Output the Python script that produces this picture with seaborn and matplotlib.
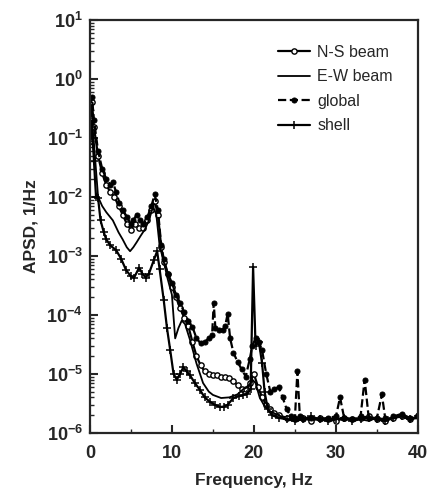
import numpy as np
import pandas as pd
import matplotlib
matplotlib.use('Agg')
import matplotlib.pyplot as plt
import seaborn as sns
from matplotlib.ticker import LogLocator, MultipleLocator

# ---- data (APSD, 1/Hz vs frequency, Hz) ----
ns_freq = [0, 0.25, 0.5, 1.0, 1.5, 2.0, 2.5, 3.0, 3.5, 4.0, 4.5, 5.0, 5.5, 6.0,
           6.5, 7.0, 7.5, 7.9, 8.3, 8.7, 9.0, 9.5, 10.0, 10.5, 11.0, 11.5, 12.0,
           12.5, 13.0, 13.5, 14.0, 14.5, 15.0, 15.5, 16.0, 16.5, 17.0, 17.5,
           18.0, 18.5, 19.0, 19.5, 20.0, 20.5, 21.0, 21.5, 22.0, 22.5, 23.0,
           24, 25, 26, 27, 28, 29, 30, 31, 32, 33, 34, 35, 36, 37, 38, 39, 40]
ns_psd = [0.2, 0.4, 0.15, 0.05, 0.025, 0.016, 0.012, 0.01, 0.007, 0.005, 0.0035,
          0.0028, 0.0035, 0.003, 0.003, 0.004, 0.006, 0.0085, 0.005, 0.0014,
          0.0008, 0.0005, 0.0003, 0.0002, 1.3e-4, 9e-5, 6.5e-5, 3.5e-5, 2e-5,
          1.4e-5, 1.1e-5, 1e-5, 9.5e-6, 9.5e-6, 9e-6, 9e-6, 8.5e-6, 7.5e-6,
          6.5e-6, 5.5e-6, 5.5e-6, 7e-6, 1e-5, 6e-6, 4e-6, 3e-6, 2.5e-6, 2.2e-6,
          2e-6, 1.8e-6, 1.7e-6, 1.8e-6, 1.6e-6, 1.8e-6, 1.7e-6, 1.6e-6, 1.8e-6,
          1.7e-6, 1.8e-6, 1.9e-6, 1.7e-6, 1.6e-6, 1.8e-6, 1.9e-6, 1.7e-6, 1.9e-6]

ew_freq = [0, 0.25, 0.5, 1.0, 1.5, 2.0, 2.8, 3.5, 4.0, 4.5, 4.9, 5.3, 5.7, 6.2,
           6.7, 7.2, 7.7, 8.1, 8.5, 9.0, 9.5, 10.0, 10.4, 10.8, 11.2, 11.6, 12.2,
           13.0, 13.8, 14.5, 15.0, 16.0, 17.0, 18.0, 18.7, 19.3, 19.8, 20.2,
           20.7, 21.2, 22, 23, 24, 25, 26, 27, 28, 29, 30, 31, 32, 33, 34, 35,
           36, 37, 38, 39, 40]
ew_psd = [0.1, 0.2, 0.08, 0.01, 0.007, 0.0055, 0.004, 0.0025, 0.0019, 0.0014,
          0.0012, 0.0014, 0.0017, 0.0022, 0.0028, 0.004, 0.0068, 0.005, 0.0015,
          0.0008, 0.0004, 2.2e-4, 4e-5, 6e-5, 8e-5, 7e-5, 3.8e-5, 1.5e-5, 7e-6,
          5e-6, 4.4e-6, 3.9e-6, 4e-6, 4.5e-6, 5.5e-6, 6e-6, 8e-6, 7e-6, 4e-6,
          3e-6, 2.3e-6, 2e-6, 1.7e-6, 1.6e-6, 1.7e-6, 1.8e-6, 1.6e-6, 1.7e-6,
          1.8e-6, 1.6e-6, 1.8e-6, 1.7e-6, 1.6e-6, 1.8e-6, 1.7e-6, 1.8e-6,
          2e-6, 1.8e-6, 1.8e-6]

gl_freq = [0, 0.25, 0.5, 1.0, 1.5, 2.0, 2.5, 2.8, 3.2, 3.6, 4.0, 4.5, 5.0, 5.3,
           5.7, 6.1, 6.5, 7.0, 7.5, 7.9, 8.3, 8.7, 9.0, 9.5, 10.0, 10.5, 11.0,
           11.5, 12.0, 12.5, 13.0, 13.5, 14.0, 14.5, 14.9, 15.1, 15.3, 15.7,
           16.2, 16.5, 16.8, 17.1, 17.5, 18.0, 18.5, 19.0, 19.5, 19.8, 20.2,
           20.6, 21.0, 21.5, 22.0, 22.5, 23.0, 23.5, 24.0, 24.5, 25.0, 25.3,
           25.6, 26, 27, 28, 29, 30, 30.5, 31, 32, 33, 33.5, 34, 35, 35.6, 36,
           37, 38, 39, 40]
gl_psd = [0.25, 0.5, 0.2, 0.06, 0.03, 0.02, 0.016, 0.018, 0.012, 0.008, 0.006,
          0.0045, 0.0035, 0.004, 0.005, 0.004, 0.0035, 0.0045, 0.007, 0.011,
          0.006, 0.0015, 0.0009, 0.0005, 3.5e-4, 2.2e-4, 1.6e-4, 1.1e-4, 8e-5,
          6.3e-5, 4e-5, 3.3e-5, 3.5e-5, 4e-5, 4.5e-5, 1.6e-4, 6e-5, 5.5e-5,
          5.5e-5, 6.5e-5, 1.05e-4, 4e-5, 2.3e-5, 1.6e-5, 1.2e-5, 9e-6, 1.8e-5,
          3e-5, 4e-5, 3.5e-5, 2.5e-5, 1e-5, 5e-6, 5.5e-6, 6e-6, 4e-6, 2.5e-6,
          1.9e-6, 1.8e-6, 1.1e-5, 1.9e-6, 1.7e-6, 1.8e-6, 1.7e-6, 1.8e-6,
          1.9e-6, 4e-6, 1.8e-6, 1.7e-6, 1.9e-6, 8e-6, 1.8e-6, 1.8e-6, 4.5e-6,
          1.8e-6, 1.9e-6, 2.1e-6, 1.8e-6, 2e-6]

sh_freq = [0, 0.25, 0.5, 0.75, 1.0, 1.3, 1.7, 2.0, 2.5, 3.2, 3.8, 4.4, 5.0, 5.4,
           6.0, 6.4, 6.8, 7.2, 7.8, 8.2, 8.5, 9.0, 9.4, 9.8, 10.2, 10.6, 11.0,
           11.4, 11.8, 12.2, 12.8, 13.4, 14.0, 14.6, 15.2, 15.9, 16.4, 16.8,
           17.5, 18.2, 18.7, 19.2, 19.6, 19.9, 20.2, 20.6, 21.0, 21.3, 21.7,
           22.2, 23, 24, 25, 26, 27, 28, 29, 30, 31, 32, 33, 34, 35, 36, 37,
           38, 39, 40]
sh_psd = [0.08, 0.15, 0.04, 0.01, 0.0095, 0.004, 0.0025, 0.0019, 0.0015,
          0.00125, 0.0009, 0.00058, 0.00045, 0.00043, 0.00063, 0.0005, 0.00043,
          0.0005, 0.00085, 0.0012, 0.0006, 1.8e-4, 6e-5, 2.5e-5, 1e-5, 8e-6,
          1e-5, 1.3e-5, 1.1e-5, 9.5e-6, 7e-6, 5.4e-6, 4e-6, 3.4e-6, 3e-6,
          2.75e-6, 2.8e-6, 3e-6, 3.9e-6, 4.2e-6, 4.4e-6, 4.6e-6, 5.5e-6, 6.5e-4,
          3e-5, 3.5e-5, 1.5e-5, 5e-6, 2.5e-6, 2e-6, 1.8e-6, 1.7e-6, 1.6e-6,
          1.7e-6, 1.9e-6, 1.7e-6, 1.6e-6, 1.7e-6, 1.8e-6, 1.6e-6, 1.7e-6,
          1.8e-6, 1.7e-6, 1.6e-6, 1.8e-6, 1.9e-6, 1.7e-6, 1.8e-6]


def plot_series(ax, freq, psd, label, **kws):
    ''' draws one spectrum with seaborn '''
    sns.lineplot(x=freq, y=psd, ax=ax, label=label, color='black',
                 estimator=None, sort=False, **kws)


sns.set_style('ticks')
plt.rcParams['font.family'] = ['Liberation Sans', 'DejaVu Sans']
plt.rcParams['mathtext.default'] = 'regular'
plt.rcParams['xtick.direction'] = 'in'
plt.rcParams['ytick.direction'] = 'in'

fig = plt.figure(figsize=(4.3, 4.97), dpi=100)
ax = fig.add_axes([0.209, 0.129, 0.763, 0.831])

plot_series(ax, ns_freq, ns_psd, 'N-S beam', linewidth=1.6, marker='o',
            markersize=3.8, markerfacecolor='white', markeredgecolor='black',
            markeredgewidth=1.0)
plot_series(ax, ew_freq, ew_psd, 'E-W beam', linewidth=1.3)
plot_series(ax, gl_freq, gl_psd, 'global', linewidth=1.6, linestyle='--',
            marker='o', markersize=3.6, markeredgecolor='black')
plot_series(ax, sh_freq, sh_psd, 'shell', linewidth=1.6, marker='+',
            markersize=6, markeredgecolor='black', markeredgewidth=1.1)

ax.set_yscale('log')
ax.set_xlim(0, 40)
ax.set_ylim(1e-6, 10)
ax.xaxis.set_major_locator(MultipleLocator(10))
ax.xaxis.set_minor_locator(MultipleLocator(5))
ax.yaxis.set_major_locator(LogLocator(base=10, numticks=10))
ax.yaxis.set_minor_locator(LogLocator(base=10, subs=np.arange(2, 10), numticks=20))
ax.tick_params(which='major', length=6, width=1.5, labelsize=13)
ax.tick_params(axis='x', which='major', pad=9)
ax.tick_params(axis='y', which='major', pad=5)
ax.tick_params(which='minor', length=3, width=1.0)
ax.tick_params(top=False, right=False, which='both')
for s in ax.spines.values():
    s.set_linewidth(1.6)
for t in ax.get_xticklabels() + ax.get_yticklabels():
    t.set_fontweight('bold')

ax.set_xlabel('Frequency, Hz', fontsize=12.5, fontweight='bold', labelpad=8)
ax.set_ylabel('APSD, 1/Hz', fontsize=12.5, fontweight='bold', labelpad=6)

leg = ax.legend(loc='upper left', frameon=False, fontsize=11.5, numpoints=1,
                handlelength=2.0, handletextpad=0.45, labelspacing=0.6,
                bbox_to_anchor=(0.53, 0.975))

fig.savefig('out.png', dpi=100)
